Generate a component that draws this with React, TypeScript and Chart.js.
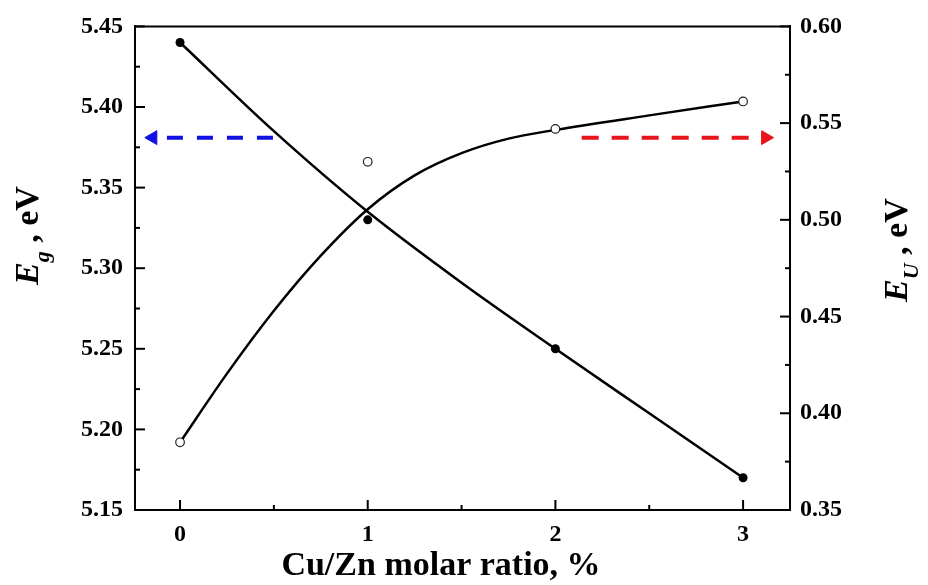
import React, { useEffect, useRef } from 'react';
import { Chart, registerables } from 'chart.js';
Chart.register(...registerables);

// Measured points (x = Cu/Zn molar ratio, %)
const ratio = [0, 1, 2, 3];
const egMeasured = [5.44, 5.33, 5.25, 5.17];
const euMeasured = [0.385, 0.53, 0.547, 0.5612];

// Fitted curves
const egFitX = [0, 0.5, 1, 1.5, 2, 2.5, 3];
const egFitY = [5.44, 5.385, 5.335, 5.291, 5.25, 5.21, 5.17];
const euFitX = [0, 0.25, 0.5, 0.75, 1, 1.25, 1.5, 1.75, 2, 2.5, 3];
const euFitY = [0.385, 0.4205, 0.453, 0.4815, 0.5055, 0.523, 0.5345, 0.542, 0.5465, 0.554, 0.5612];

// Arrows (tail first, head last), on the Eg axis
const blueArrowX = [0.495, -0.145];
const blueArrowY = [5.381, 5.381];
const redArrowX = [2.14, 3.12];
const redArrowY = [5.381, 5.381];

// Axis ranges / labels
const xRange = [-0.24, 3.25];
const egRange = [5.15, 5.45];
const euRange = [0.35, 0.6];
const xTitle = 'Cu/Zn molar ratio, %';
const leftTitle = ['E', 'g', ' , eV'];
const rightTitle = ['E', 'U', ' , eV'];

const FONT = 'Liberation Serif';

const pts = (xs: number[], ys: number[]) => xs.map((x, i) => ({ x, y: ys[i] }));

const frameTicksPlugin = {
  id: 'frameTicks',
  afterDraw(chart: any) {
    const { ctx, chartArea: a, scales } = chart;
    ctx.save();
    ctx.strokeStyle = '#000';
    ctx.lineWidth = 2;
    ctx.beginPath();
    ctx.moveTo(a.left - 1, a.top);
    ctx.lineTo(a.right + 1, a.top);
    ctx.stroke();
    const vals = (scale: any) => {
      const majors = scale.ticks.map((t: any) => t.value);
      const step = majors[1] - majors[0];
      const minors: number[] = [];
      for (let v = majors[0] - step / 2; v <= scale.max + 1e-9; v += step) {
        if (v >= scale.min - 1e-9) minors.push(v);
      }
      return { majors, minors };
    };
    const draw = (scale: any, kind: string) => {
      const { majors, minors } = vals(scale);
      const one = (v: number, len: number) => {
        const p = scale.getPixelForValue(v);
        ctx.beginPath();
        if (kind === 'x') {
          ctx.moveTo(p, a.bottom);
          ctx.lineTo(p, a.bottom - len);
        } else if (kind === 'l') {
          ctx.moveTo(a.left, p);
          ctx.lineTo(a.left + len, p);
        } else {
          ctx.moveTo(a.right, p);
          ctx.lineTo(a.right - len, p);
        }
        ctx.stroke();
      };
      majors.forEach((v: number) => one(v, 10));
      minors.forEach((v: number) => one(v, 5));
    };
    draw(scales.x, 'x');
    draw(scales.y, 'l');
    draw(scales.y2, 'r');
    ctx.restore();
  },
};

const titlesPlugin = {
  id: 'titles',
  afterDraw(chart: any) {
    const { ctx } = chart;
    ctx.save();
    ctx.fillStyle = '#000';
    ctx.textBaseline = 'alphabetic';
    ctx.textAlign = 'center';
    ctx.font = `bold 34px "${FONT}"`;
    ctx.fillText(xTitle, 441, 575);
    ctx.textAlign = 'left';
    const vert = (parts: string[], x: number, y: number) => {
      ctx.save();
      ctx.translate(x, y);
      ctx.rotate(-Math.PI / 2);
      let u = 0;
      ctx.font = `italic bold 34px "${FONT}"`;
      ctx.fillText(parts[0], u, 0);
      u += ctx.measureText(parts[0]).width;
      ctx.font = `italic bold 22px "${FONT}"`;
      ctx.fillText(parts[1], u, 11);
      u += ctx.measureText(parts[1]).width;
      ctx.font = `bold 34px "${FONT}"`;
      ctx.fillText(parts[2], u, 0);
      ctx.restore();
    };
    vert(leftTitle, 38, 285);
    vert(rightTitle, 907, 302);
    ctx.restore();
  },
};

export default function App() {
  const ref = useRef<HTMLCanvasElement>(null);
  useEffect(() => {
    if (!ref.current) return;
    const tickFont = { family: FONT, size: 24, weight: 'bold' as const };
    const chart = new Chart(ref.current, {
      type: 'line',
      data: {
        datasets: [
          {
            label: 'Eg points',
            data: pts(ratio, egMeasured),
            yAxisID: 'y',
            showLine: false,
            pointRadius: 4.5,
            pointBackgroundColor: '#000',
            pointBorderColor: '#000',
            pointBorderWidth: 0,
          },
          {
            label: 'EU points',
            data: pts(ratio, euMeasured),
            yAxisID: 'y2',
            showLine: false,
            pointRadius: 4.3,
            pointBackgroundColor: '#fff',
            pointBorderColor: '#222',
            pointBorderWidth: 1.2,
          },
          {
            label: 'Eg fit',
            data: pts(egFitX, egFitY),
            yAxisID: 'y',
            borderColor: '#000',
            borderWidth: 2.5,
            pointRadius: 0,
            cubicInterpolationMode: 'monotone',
          },
          {
            label: 'EU fit',
            data: pts(euFitX, euFitY),
            yAxisID: 'y2',
            borderColor: '#000',
            borderWidth: 2.5,
            pointRadius: 0,
            cubicInterpolationMode: 'monotone',
          },
          {
            label: 'blue arrow',
            data: pts(blueArrowX, blueArrowY),
            yAxisID: 'y',
            borderColor: '#1010e0',
            borderWidth: 4,
            borderDash: [16, 14],
            pointStyle: 'triangle',
            pointRotation: 270,
            pointRadius: [0, 8],
            pointBackgroundColor: '#1010e0',
            pointBorderColor: '#1010e0',
            pointBorderWidth: 1,
          },
          {
            label: 'red arrow',
            data: pts(redArrowX, redArrowY),
            yAxisID: 'y',
            borderColor: '#e8141c',
            borderWidth: 4,
            borderDash: [17, 13],
            pointStyle: 'triangle',
            pointRotation: 90,
            pointRadius: [0, 8],
            pointBackgroundColor: '#e8141c',
            pointBorderColor: '#e8141c',
            pointBorderWidth: 1,
          },
        ],
      },
      options: {
        animation: false,
        responsive: true,
        maintainAspectRatio: false,
        layout: { padding: { top: 20, left: 0, right: 0, bottom: 0 } },
        plugins: { legend: { display: false }, tooltip: { enabled: false } },
        scales: {
          x: {
            type: 'linear',
            min: xRange[0],
            max: xRange[1],
            afterFit: (s: any) => { s.height = 75; },
            ticks: {
              stepSize: 1,
              includeBounds: false,
              font: tickFont,
              color: '#000',
              padding: 10,
              callback: (v: any) => String(v),
            },
            grid: { display: false, drawTicks: false },
            border: { color: '#000', width: 2 },
          },
          y: {
            type: 'linear',
            position: 'left',
            min: egRange[0],
            max: egRange[1],
            afterFit: (s: any) => { s.width = 135; },
            ticks: {
              stepSize: 0.05,
              includeBounds: false,
              font: tickFont,
              color: '#000',
              padding: 12,
              callback: (v: any) => Number(v).toFixed(2),
            },
            grid: { display: false, drawTicks: false },
            border: { color: '#000', width: 2 },
          },
          y2: {
            type: 'linear',
            position: 'right',
            min: euRange[0],
            max: euRange[1],
            afterFit: (s: any) => { s.width = 138; },
            ticks: {
              stepSize: 0.05,
              includeBounds: false,
              font: tickFont,
              color: '#000',
              padding: 10,
              callback: (v: any) => Number(v).toFixed(2),
            },
            grid: { display: false, drawTicks: false },
            border: { color: '#000', width: 2 },
          },
        },
      },
      plugins: [frameTicksPlugin, titlesPlugin],
    } as any);
    return () => chart.destroy();
  }, []);
  return (
    <div style={{ position: 'absolute', left: 0, top: 0, width: 928, height: 585, background: '#fff' }}>
      <canvas ref={ref} />
    </div>
  );
}
